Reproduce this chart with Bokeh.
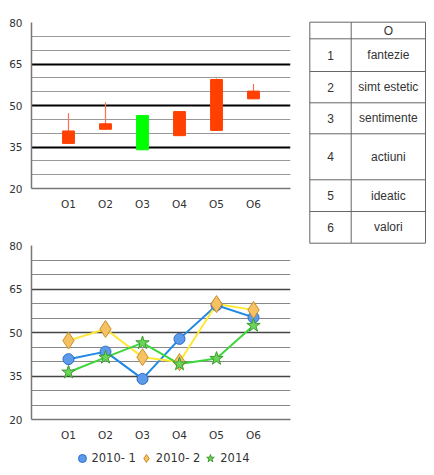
from bokeh.plotting import figure
from bokeh.models import (Range1d, FixedTicker, Legend, LegendItem, ColumnDataSource)
from bokeh.layouts import row, column
from bokeh.embed import file_html
from bokeh.resources import INLINE
from bokeh.core.properties import value

cats = ["O1", "O2", "O3", "O4", "O5", "O6"]
s2010_1 = [40.8, 43.4, 34.0, 47.8, 59.4, 55.2]
s2010_2 = [47.2, 51.2, 41.5, 39.8, 59.8, 57.8]
s2014 = [36.3, 41.4, 46.4, 39.1, 41.0, 52.4]
series_names = ["2010- 1", "2010- 2", "2014"]
yticks = [20, 35, 50, 65, 80]
yminor = [25, 30, 40, 45, 55, 60, 70, 75]

table_header = ["", "O"]
table_nums = ["1", "2", "3", "4", "5", "6"]
table_labels = ["fantezie", "simt estetic", "sentimente", "actiuni", "ideatic", "valori"]

FONT = "DejaVu Sans"
xs = list(range(1, len(cats) + 1))
all_series = [s2010_1, s2010_2, s2014]

series_styles = [
    dict(color="#1E88E5", marker="circle", size=11, fill="#5B9BEA", edge="#2F6CC4"),
    dict(color="#FFE833", marker="diamond", size=17, fill="#F4C262", edge="#C98E2A"),
    dict(color="#3DD63D", marker="star", size=14, fill="#6BD65A", edge="#3C9A30"),
]


def style_axes(p, major_color, major_width, minor_color, minor_width):
    p.outline_line_color = None
    p.background_fill_color = "white"
    p.border_fill_color = "white"
    p.xaxis.ticker = FixedTicker(ticks=xs)
    p.xaxis.major_label_overrides = {i: c for i, c in zip(xs, cats)}
    p.yaxis.ticker = FixedTicker(ticks=yticks, minor_ticks=yminor)
    for ax in (p.xaxis, p.yaxis):
        ax.major_tick_line_color = None
        ax.minor_tick_line_color = None
        ax.axis_line_color = "#777777"
        ax.axis_line_width = 1.5
        ax.major_label_text_font = FONT
        ax.major_label_text_font_size = "10.5px"
        ax.major_label_text_color = "#333333"
    p.xaxis.major_label_standoff = 3
    p.yaxis.major_label_standoff = 3
    p.xgrid.grid_line_color = None
    p.ygrid.grid_line_color = major_color
    p.ygrid.grid_line_width = major_width
    p.ygrid.minor_grid_line_color = minor_color
    p.ygrid.minor_grid_line_width = minor_width


# ---- top candlestick chart ----
top = figure(width=304, height=212, output_backend="svg", toolbar_location=None,
             x_range=Range1d(0, 7), y_range=Range1d(20, 80),
             min_border_left=30, min_border_right=7, min_border_top=22, min_border_bottom=20)
style_axes(top, "#000000", 2, "#999999", 1.2)

opens = s2010_1
closes = s2014
highs = [max(v) for v in zip(*all_series)]
lows = [min(v) for v in zip(*all_series)]
colors = ["#00FF00" if c > o else "#FF4000" for o, c in zip(opens, closes)]
wick_colors = ["#00DD00" if c > o else "#FF7050" for o, c in zip(opens, closes)]
csrc = ColumnDataSource(dict(x=xs, top=[max(o, c) for o, c in zip(opens, closes)],
                             bottom=[min(o, c) for o, c in zip(opens, closes)],
                             high=highs, low=lows, color=colors, wcolor=wick_colors))
top.segment(x0="x", y0="high", x1="x", y1="low", line_color="wcolor", line_width=1.2, source=csrc)
top.vbar(x="x", top="top", bottom="bottom", width=0.32, fill_color="color", line_color="color",
         source=csrc)

# ---- bottom line chart ----
bot = figure(width=304, height=231, output_backend="svg", toolbar_location=None,
             x_range=Range1d(0, 7), y_range=Range1d(20, 80),
             min_border_left=31, min_border_right=14, min_border_top=33, min_border_bottom=20)
style_axes(bot, "#444444", 1.3, "#888888", 1.2)

for vals, st in zip(all_series, series_styles):
    bot.line(xs, vals, line_color=st["color"], line_width=2)
for vals, st in zip(all_series, series_styles):
    bot.scatter(xs, vals, marker=st["marker"], size=st["size"], fill_color=st["fill"],
                line_color=st["edge"], line_width=1)

# ---- legend strip under the line chart (series drawn out of its view) ----
leg = figure(width=304, height=30, output_backend="svg", toolbar_location=None,
             min_border=0, x_range=Range1d(-10, -9), y_range=Range1d(-10, -9))
leg.axis.visible = False
leg.grid.visible = False
leg.outline_line_color = None
items = []
for name, vals, st in zip(series_names, all_series, series_styles):
    r = leg.scatter(x=xs, y=vals, marker=st["marker"], size=st["size"], fill_color=st["fill"],
                    line_color=st["edge"], line_width=1)
    items.append(LegendItem(label=name, renderers=[r]))
legend = Legend(items=items, orientation="horizontal", location="center",
                label_text_font=FONT, label_text_font_size="11.5px", label_text_color="#333333",
                glyph_width=20, glyph_height=26, label_standoff=0, spacing=0,
                padding=1, margin=0, border_line_color=None, background_fill_alpha=0)
leg.add_layout(legend)

# ---- table ----
TW, TH = 130, 245
tab = figure(width=TW, height=TH, output_backend="svg", toolbar_location=None,
             min_border=0, x_range=Range1d(0, TW), y_range=Range1d(TH, 0))
tab.axis.visible = False
tab.grid.visible = False
tab.outline_line_color = None

row_heights = [16.6, 32.7, 31.3, 31, 46, 31.7, 31.7]
col_edges = [5.3, 46.7, 121]
t0 = 21.7
edges = [t0]
for h in row_heights:
    edges.append(edges[-1] + h)
tab.segment(x0=[col_edges[0]] * len(edges), x1=[col_edges[-1]] * len(edges),
            y0=edges, y1=edges, line_color="#666666", line_width=1)
tab.segment(x0=col_edges, x1=col_edges, y0=[edges[0]] * len(col_edges),
            y1=[edges[-1]] * len(col_edges), line_color="#666666", line_width=1)
centers = [(edges[i] + edges[i + 1]) / 2 for i in range(len(row_heights))]
c1 = (col_edges[0] + col_edges[1]) / 2
c2 = (col_edges[1] + col_edges[2]) / 2
tab.text(x=[c1, c2] + [c1] * len(table_nums) + [c2] * len(table_labels),
         y=[centers[0]] * 2 + centers[1:] + centers[1:],
         text=table_header + table_nums + table_labels,
         text_font=value("Liberation Sans"), text_font_size="12px", text_color="#333333",
         text_align="center", text_baseline="middle")

layout = row(column(top, bot, leg), tab)
open("out.html", "w").write(file_html(layout, INLINE))
